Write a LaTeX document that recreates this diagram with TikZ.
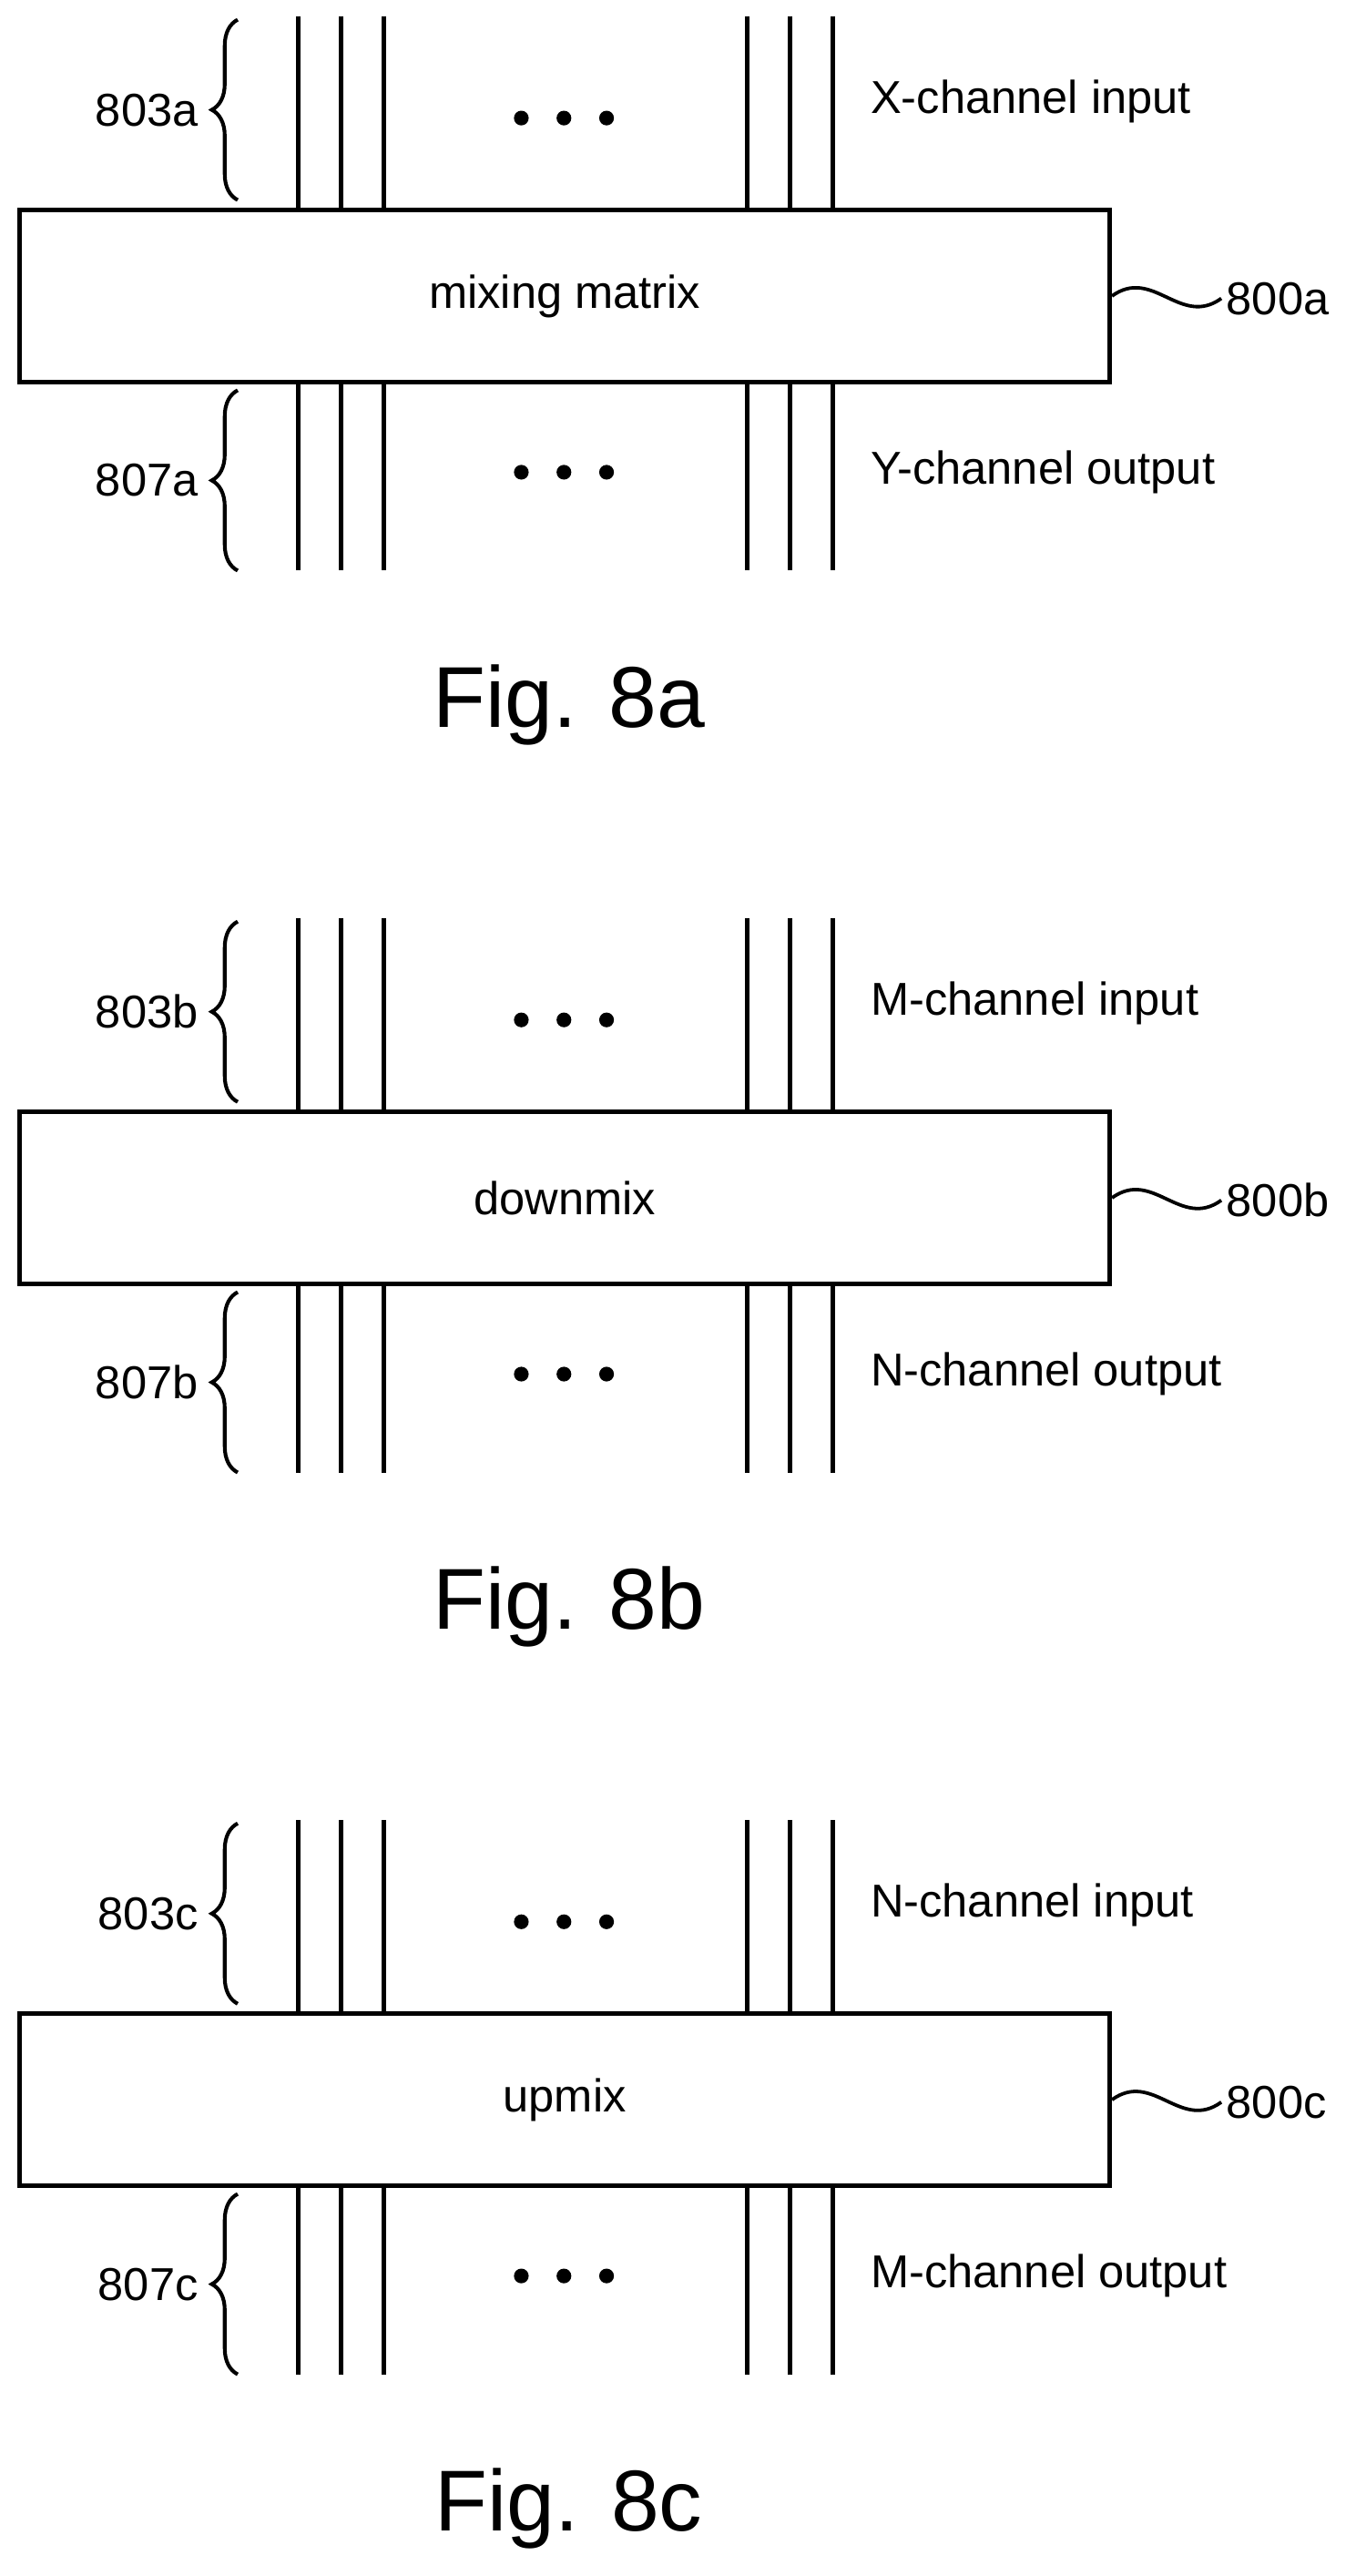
\documentclass[tikz,border=0pt]{standalone}
\usepackage{fontspec}
\setmainfont{Liberation Sans}
\usetikzlibrary{decorations.pathreplacing,calc}
\begin{document}
\begin{tikzpicture}[x=0.02cm,y=-0.02cm,line width=1.6pt,
    box/.style={draw, minimum width=13.3cm, minimum height=2.1cm, font=\fontsize{16}{19}\selectfont, inner sep=0pt},
    lbl/.style={font=\fontsize{16}{19}\selectfont, inner sep=1pt},
    fig/.style={font=\fontsize{30}{34}\selectfont},
    brc/.style={decorate, decoration={brace, amplitude=9pt}, line width=1.3pt}]
    \useasboundingbox (0,0) rectangle (827,1571);
    \foreach \p/\t/\ti/\to [count=\k] in {a/mixing matrix/X-channel input/Y-channel output,
        b/downmix/M-channel input/N-channel output,
        c/upmix/N-channel input/M-channel output}{
      \begin{scope}[yshift={-(\k-1)*550*0.02cm}]
      \node[box] (box\p) at (344.5,180.5) {\t};
      % channel lines
      \foreach \x in {182,208,234,456,482,508}{
        \coordinate (in\p\x) at (\x,10);
        \coordinate (out\p\x) at (\x,348);
        \draw (in\p\x) -- (in\p\x |- box\p.north);
        \draw (box\p.south -| out\p\x) -- (out\p\x);
      }
      \foreach \x in {318,344,370}{
        \fill (\x,72) circle (4.5);
        \fill (\x,288) circle (4.5);
      }
      % braces and labels
      \coordinate (bi\p) at (145,12);
      \coordinate (bj\p) at (145,122);
      \coordinate (bk\p) at (145,238);
      \coordinate (bl\p) at (145,348);
      \draw[brc] (bj\p) -- (bi\p);
      \draw[brc] (bl\p) -- (bk\p);
      \node[lbl, anchor=east] (n803\p) at (124,67) {803\p};
      \node[lbl, anchor=east] (n807\p) at (124,293) {807\p};
      \node[lbl, anchor=west] (nin\p) at (528,62) {\ti};
      \node[lbl, anchor=west] (nout\p) at (528,288) {\to};
      \node[lbl, anchor=west] (n800\p) at (745,182) {800\p};
      \draw[line width=1.2pt] (box\p.east) .. controls ($(box\p.east)+(25,-18)$) and ($(n800\p.west)+(-25,18)$) .. (n800\p.west);
      \node[fig] (fig\p) at (347,430) {Fig. 8\p};
      \end{scope}
    }
\end{tikzpicture}
\end{document}
